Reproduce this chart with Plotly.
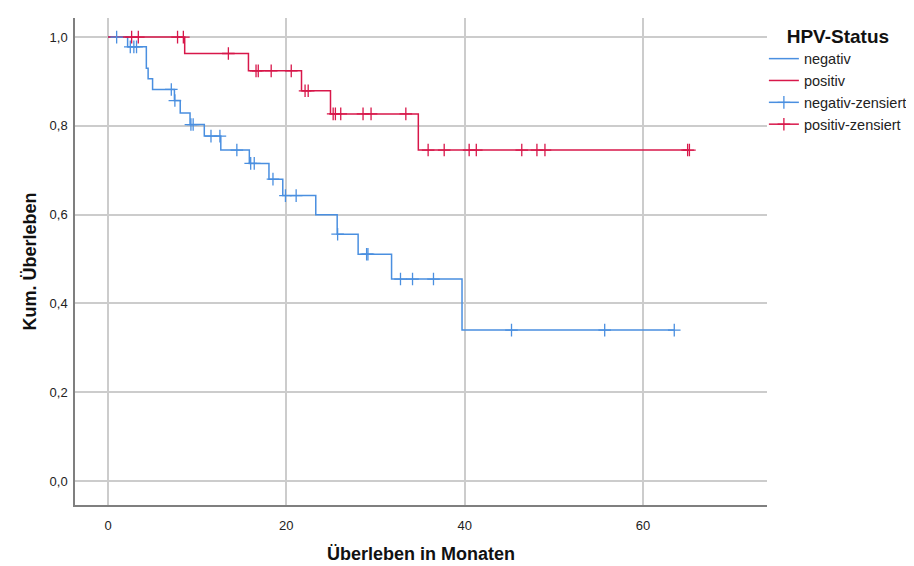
import plotly.graph_objects as go
import numpy as np

# Kaplan-Meier step data (time in months, cumulative survival after step)
neg_times = [0, 2.2, 4.3, 4.5, 5.0, 7.45, 8.1, 9.2, 10.8, 12.65, 15.85, 18.05, 19.6, 23.3, 25.7, 28.05, 31.8, 39.7, 63.5]
neg_surv = [1.0, 0.978, 0.930, 0.906, 0.882, 0.857, 0.829, 0.803, 0.777, 0.7455, 0.7155, 0.680, 0.643, 0.600, 0.556, 0.511, 0.455, 0.340, 0.340]

pos_times = [0, 8.6, 15.75, 21.7, 24.95, 34.8, 65.2]
pos_surv = [1.0, 0.963, 0.924, 0.879, 0.827, 0.7455, 0.7455]

# censored observation times
neg_cens = [0.97, 2.5, 2.9, 3.2, 7.1, 7.5, 9.3, 9.55, 11.55, 12.55, 14.45, 16.0, 16.4, 18.5,
            19.9, 21.1, 25.75, 29.0, 29.15, 32.8, 34.15, 36.5, 45.25, 55.7, 63.5]
pos_cens = [2.65, 3.4, 7.8, 8.45, 13.5, 16.6, 16.85, 18.3, 20.55, 22.1, 22.45, 25.25, 25.5,
            26.1, 28.6, 29.5, 33.4, 35.9, 37.7, 40.5, 41.3, 46.4, 48.1, 49.0, 65.0, 65.2]

x_ticks = [0, 20, 40, 60]
y_ticks = [0.0, 0.2, 0.4, 0.6, 0.8, 1.0]

BLUE = "#4A8FE0"
RED = "#D8174A"


def step_value(times, surv, t):
    idx = np.searchsorted(np.array(times), t, side="right") - 1
    return surv[max(idx, 0)]


def gap_series(ts, times, surv):
    xs, ys = [], []
    for t in ts:
        xs += [t, None]
        ys += [step_value(times, surv, t), None]
    return xs, ys


fig = go.Figure()
fig.add_trace(go.Scatter(x=neg_times, y=neg_surv, mode="lines", line_shape="hv",
                         line=dict(color=BLUE, width=1.5), name="negativ"))
fig.add_trace(go.Scatter(x=pos_times, y=pos_surv, mode="lines", line_shape="hv",
                         line=dict(color=RED, width=1.5), name="positiv"))
nx, ny = gap_series(neg_cens, neg_times, neg_surv)
fig.add_trace(go.Scatter(x=nx, y=ny, mode="lines+markers", connectgaps=False,
                         line=dict(color=BLUE, width=1.5),
                         marker=dict(symbol="cross-thin", size=9,
                                     line=dict(color=BLUE, width=1.3)),
                         name="negativ-zensiert"))
px_, py_ = gap_series(pos_cens, pos_times, pos_surv)
fig.add_trace(go.Scatter(x=px_, y=py_, mode="lines+markers", connectgaps=False,
                         line=dict(color=RED, width=1.5),
                         marker=dict(symbol="cross-thin", size=9,
                                     line=dict(color=RED, width=1.3)),
                         name="positiv-zensiert"))

FONT = "Liberation Sans, Arial, sans-serif"
fig.update_layout(
    width=914, height=566,
    margin=dict(l=67, r=155, t=10, b=69),
    paper_bgcolor="white", plot_bgcolor="white",
    separators=",.",
    font=dict(family=FONT, size=13, color="#222222"),
    showlegend=True,
    legend=dict(
        title=dict(text="<b>HPV-Status</b>", font=dict(size=19, color="#111111"),
                   side="top center"),
        x=0.9955, y=1.0, xanchor="left", yanchor="top",
        font=dict(size=14.5, color="#222222"),
        itemwidth=30, tracegroupgap=0,
        bgcolor="rgba(0,0,0,0)",
    ),
    xaxis=dict(
        range=[-3.7, 73.9], tickvals=x_ticks, ticktext=[str(v) for v in x_ticks],
        showgrid=True, gridcolor="#cccccc", gridwidth=1.5, zeroline=False,
        showline=True, linecolor="#7f7f7f", linewidth=1.5,
        ticks="outside", ticklen=8, tickcolor="rgba(0,0,0,0)",
        tickfont=dict(size=13, color="#222222"),
        automargin=False,
        title=dict(text="<b>Überleben in Monaten</b>", font=dict(size=18, color="#111111"),
                   standoff=15),
    ),
    yaxis=dict(
        range=[-0.054, 1.043], tickvals=y_ticks, tickformat=".1f",
        showgrid=True, gridcolor="#cccccc", gridwidth=1.5, zeroline=False,
        showline=True, linecolor="#7f7f7f", linewidth=1.5,
        ticks="outside", ticklen=3, tickcolor="rgba(0,0,0,0)",
        tickfont=dict(size=13, color="#222222"),
        automargin=False,
        title=dict(text="<b>Kum. Überleben</b>", font=dict(size=18, color="#111111"),
                   standoff=8),
    ),
)

fig.write_html("out.html")
